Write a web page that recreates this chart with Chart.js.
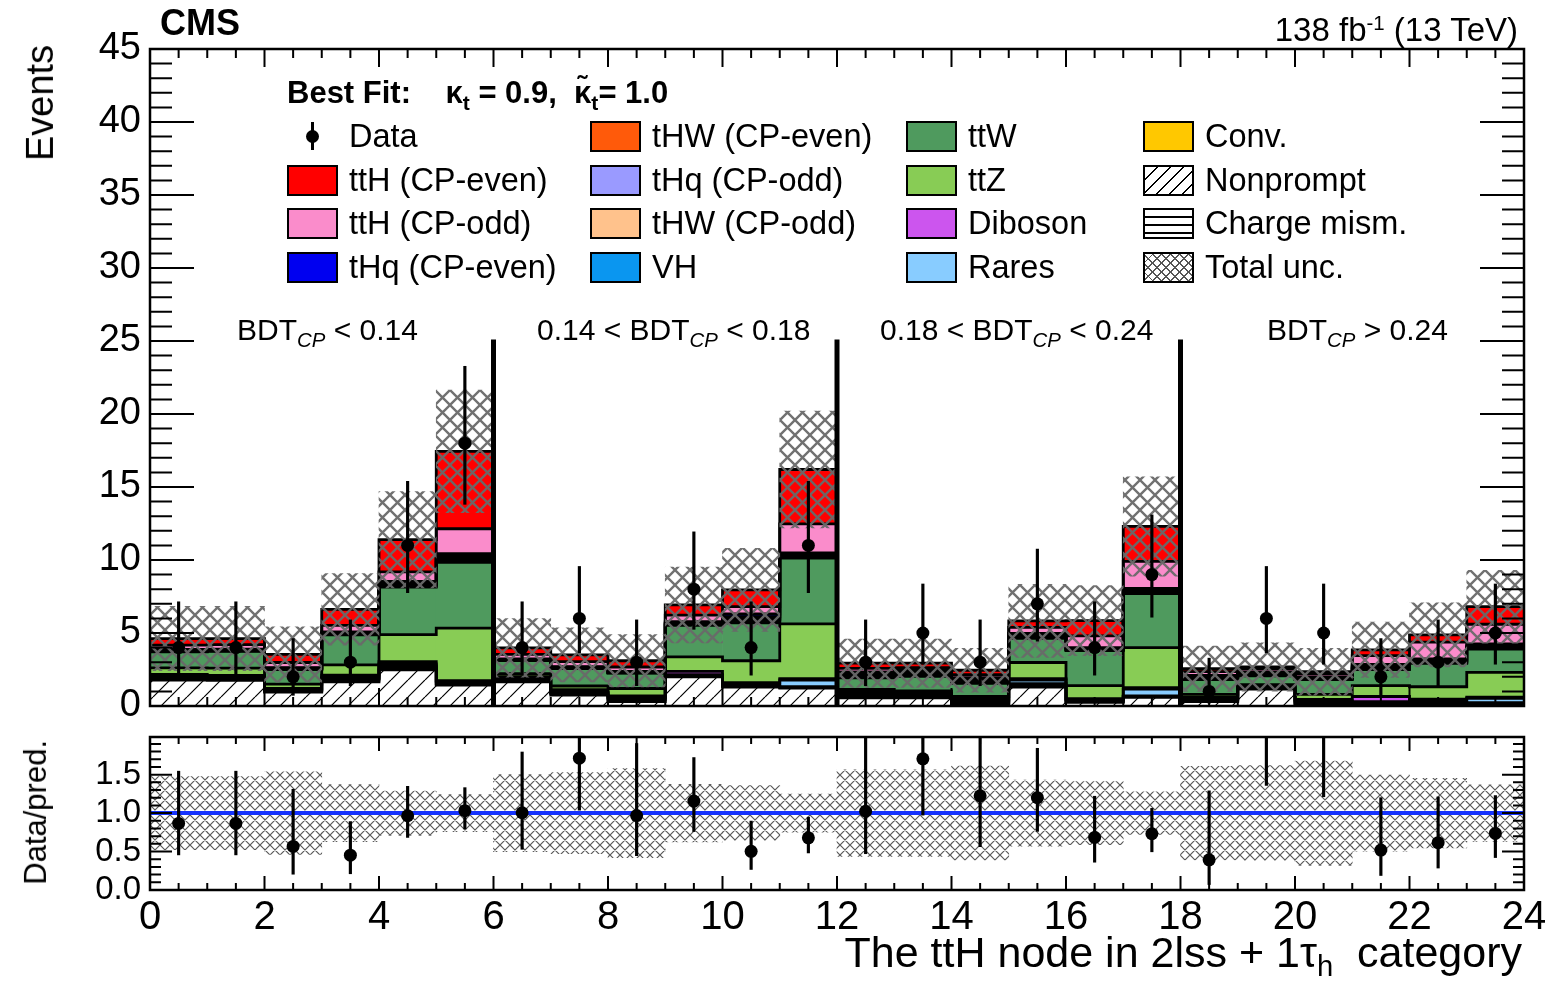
<!DOCTYPE html>
<html lang="es">
<head>
<meta charset="utf-8">
<title>Nodo ttH en 2lss + 1τh</title>
<script src="https://cdn.jsdelivr.net/npm/chart.js@4.4.1/dist/chart.umd.min.js"></script>
<style>
  html, body { margin: 0; padding: 0; background: #fff; }
  body { position: relative; width: 1545px; height: 984px; overflow: hidden;
         font-family: "Liberation Sans", Arial, Helvetica, sans-serif; color: #000; }
  canvas { position: absolute; left: 0; }
  #principal { top: 0; }
  #cociente { top: 725px; }
  .t { position: absolute; white-space: nowrap; line-height: 1; z-index: 2; }
  .vert { writing-mode: vertical-rl; transform: rotate(180deg); }
  .caja { position: absolute; width: 51px; height: 31px; box-sizing: border-box; border: 2px solid #000; z-index: 2; }
  .sub { font-size: 0.68em; position: relative; top: 0.32em; }
  .sup { font-size: 0.62em; position: relative; top: -0.55em; }
</style>
</head>
<body>
<canvas id="principal" width="1545" height="720"></canvas>
<canvas id="cociente" width="1545" height="259"></canvas>

<div class="t" style="left:160px; top:5px; font-size:36px; font-weight:bold;">CMS</div>
<div class="t" style="right:27px; top:13px; font-size:33px;">138 fb<span class="sup">-1</span> (13 TeV)</div>
<div class="t" style="left:287px; top:77px; font-size:31px; font-weight:bold;">Best Fit:&nbsp;&nbsp;&nbsp; κ<span class="sub">t</span> = 0.9,&nbsp;&nbsp;κ̃<span class="sub">t</span>= 1.0</div>

<div class="t" style="left:237px; top:315px; font-size:30px;">BDT<span class="sub"><i>CP</i></span> &lt; 0.14</div>
<div class="t" style="left:537px; top:315px; font-size:30px;">0.14 &lt; BDT<span class="sub"><i>CP</i></span> &lt; 0.18</div>
<div class="t" style="left:880px; top:315px; font-size:30px;">0.18 &lt; BDT<span class="sub"><i>CP</i></span> &lt; 0.24</div>
<div class="t" style="left:1267px; top:315px; font-size:30px;">BDT<span class="sub"><i>CP</i></span> &gt; 0.24</div>

<div class="t vert" style="left:21px; top:45px; font-size:38px;">Events</div>
<div class="t vert" style="left:20px; top:740px; font-size:31px;">Data/pred.</div>
<div class="t" style="right:23px; top:931px; font-size:43px;">The ttH node in 2lss + 1τ<span class="sub">h</span>&nbsp; category</div>

<div id="leyenda"></div>

<script>
Chart.defaults.font.family = '"Liberation Sans", Arial, sans-serif';
Chart.defaults.color = '#000';

// ==================== DATOS ====================
// 24 bins del nodo ttH: cuatro regiones de BDT_CP con seis bins cada una
const centros = [0.5, 1.5, 2.5, 3.5, 4.5, 5.5, 6.5, 7.5, 8.5, 9.5, 10.5, 11.5,
                 12.5, 13.5, 14.5, 15.5, 16.5, 17.5, 18.5, 19.5, 20.5, 21.5, 22.5, 23.5];
const limitesBDT = [6, 12, 18];
const alturaSeparador = 25.1;

const datos   = [4, 4, 2, 3, 11, 18, 4, 6, 3, 8, 4, 11, 3, 5, 3, 7, 4, 9, 1, 6, 5, 2, 3, 5];
const errBajo = [2.09, 2.09, 0.71, 1.37, 7.74, 13.79, 2.09, 3.62, 1.37, 5.23, 2.09, 7.74,
                 1.37, 2.84, 1.37, 4.42, 2.09, 6.06, 0.17, 3.62, 2.84, 0.71, 1.37, 2.84];
const errAlto = [7.16, 7.16, 4.64, 5.92, 15.41, 23.29, 7.16, 9.58, 5.92, 11.95, 7.16, 15.41,
                 5.92, 8.38, 5.92, 10.77, 7.16, 13.11, 3.30, 9.58, 8.38, 4.64, 5.92, 8.38];

// Fondos y señales, de abajo hacia arriba en la pila
const nonprompt = [1.78, 1.75, 0.95, 1.65, 2.47, 1.44, 1.65, 0.75, 0.30, 2.00, 1.30, 1.23,
                   0.55, 0.55, 0.05, 1.30, 0.25, 0.60, 0.30, 1.15, 0.05, 0.15, 0.05, 0.05];
const chargeMis = [0.10, 0.10, 0.08, 0.12, 0.15, 0.05, 0.10, 0.10, 0.12, 0.05, 0.05, 0.05,
                   0.10, 0.08, 0.10, 0.08, 0.05, 0.05, 0.08, 0.05, 0.10, 0.05, 0.10, 0.10];
const conv      = [0.10, 0.08, 0.06, 0.10, 0.12, 0.05, 0.08, 0.06, 0.10, 0.05, 0.05, 0.05,
                   0.08, 0.07, 0.10, 0.15, 0.05, 0.05, 0.08, 0.05, 0.10, 0.05, 0.10, 0.08];
const rares     = [0.08, 0.05, 0.05, 0.10, 0.15, 0.12, 0.08, 0.06, 0.08, 0.05, 0.12, 0.45,
                   0.10, 0.08, 0.10, 0.25, 0.08, 0.45, 0.06, 0.05, 0.10, 0.05, 0.12, 0.30];
const diboson   = [0.10, 0.12, 0.06, 0.15, 0.15, 0.08, 0.10, 0.15, 0.10, 0.22, 0.08, 0.10,
                   0.10, 0.10, 0.10, 0.10, 0.07, 0.10, 0.08, 0.05, 0.10, 0.35, 0.10, 0.07];
const ttZ       = [0.45, 0.50, 0.30, 0.70, 1.85, 3.60, 0.20, 0.25, 0.50, 1.00, 1.50, 3.75,
                   0.20, 0.15, 0.20, 1.10, 0.90, 2.75, 0.20, 0.12, 0.35, 0.75, 0.85, 1.70];
const ttW       = [1.10, 1.15, 1.00, 2.05, 3.25, 4.50, 0.90, 1.20, 1.05, 2.15, 2.60, 4.50,
                   0.80, 1.00, 0.90, 1.65, 2.40, 3.70, 1.00, 0.60, 1.00, 1.10, 1.60, 1.60];
const vh        = [0.03, 0.03, 0.02, 0.04, 0.08, 0.12, 0.02, 0.02, 0.02, 0.05, 0.12, 0.07,
                   0.08, 0.08, 0.08, 0.07, 0.04, 0.07, 0.06, 0.05, 0.04, 0.07, 0.06, 0.07];
const thwImpar  = [0.02, 0.02, 0.02, 0.03, 0.06, 0.09, 0.02, 0.02, 0.02, 0.04, 0.09, 0.08,
                   0.06, 0.06, 0.06, 0.05, 0.03, 0.08, 0.05, 0.04, 0.03, 0.05, 0.05, 0.05];
const thwPar    = [0.03, 0.02, 0.02, 0.03, 0.06, 0.09, 0.02, 0.02, 0.02, 0.04, 0.09, 0.05,
                   0.06, 0.06, 0.06, 0.05, 0.03, 0.05, 0.04, 0.04, 0.03, 0.05, 0.04, 0.05];
const thqImpar  = [0.03, 0.03, 0.03, 0.04, 0.08, 0.12, 0.03, 0.03, 0.03, 0.05, 0.12, 0.06,
                   0.08, 0.08, 0.08, 0.07, 0.04, 0.06, 0.06, 0.05, 0.04, 0.07, 0.06, 0.07];
const thqPar    = [0.05, 0.05, 0.04, 0.06, 0.12, 0.18, 0.03, 0.03, 0.03, 0.07, 0.18, 0.09,
                   0.12, 0.12, 0.12, 0.11, 0.06, 0.09, 0.09, 0.07, 0.06, 0.11, 0.09, 0.11];
const tthImpar  = [0.30, 0.30, 0.35, 0.45, 0.65, 1.70, 0.30, 0.35, 0.30, 0.45, 0.50, 2.00,
                   0.25, 0.20, 0.20, 0.40, 0.80, 1.85, 0.25, 0.20, 0.20, 0.60, 1.15, 1.35];
const tthPar    = [0.45, 0.42, 0.55, 1.10, 2.20, 5.30, 0.45, 0.46, 0.43, 0.70, 1.15, 3.72,
                   0.35, 0.30, 0.30, 0.45, 1.05, 2.40, 0.20, 0.15, 0.15, 0.40, 0.50, 1.20];

// Incertidumbre total (semiancho absoluto)
const incertidumbre = [2.2, 2.2, 1.9, 2.45, 3.3, 4.2, 2.0, 1.85, 1.8, 2.6, 2.85, 4.0,
                       1.65, 1.65, 1.5, 2.5, 2.4, 3.4, 1.55, 1.65, 1.6, 1.9, 2.2, 2.5];

// ==================== ESTILOS ====================
const colores = {
  conv: '#ffc800', raros: '#88ccff', dibosones: '#cc55ee', ttz: '#88cc55', ttw: '#4f9a5e',
  vh: '#0a96f0', thwImpar: '#ffc28c', thwPar: '#ff5a0a', thqImpar: '#9a9aff', thqPar: '#0000f0',
  tthImpar: '#fa8ccb', tthPar: '#ff0000'
};

function patron(tam, fondo, color, ancho, diagonales) {
  const c = document.createElement('canvas');
  c.width = c.height = tam;
  const g = c.getContext('2d');
  if (fondo) { g.fillStyle = fondo; g.fillRect(0, 0, tam, tam); }
  g.strokeStyle = color;
  g.lineWidth = ancho;
  g.beginPath();
  for (const k of [-tam, 0, tam]) {
    if (diagonales.includes('/')) { g.moveTo(k, tam); g.lineTo(k + tam, 0); }
    if (diagonales.includes('\\')) { g.moveTo(k, 0); g.lineTo(k + tam, tam); }
    if (diagonales.includes('-')) { g.moveTo(0, tam / 2); g.lineTo(tam, tam / 2); }
  }
  g.stroke();
  return g.createPattern(c, 'repeat');
}

const rayado      = patron(17, '#fff', '#000', 1.2, '/');
const lineas      = patron(7, '#fff', '#000', 1.2, '-');
const cruzado     = patron(15, null, 'rgba(105,105,105,0.95)', 2.4, '/\\');
const cruzadoFino = patron(10, null, 'rgba(70,70,70,0.9)', 1.2, '/\\');

const componentes = [
  { label: 'Nonprompt', valores: nonprompt, color: rayado },
  { label: 'Charge mism.', valores: chargeMis, color: lineas },
  { label: 'Conv.', valores: conv, color: colores.conv },
  { label: 'Rares', valores: rares, color: colores.raros },
  { label: 'Diboson', valores: diboson, color: colores.dibosones },
  { label: 'ttZ', valores: ttZ, color: colores.ttz },
  { label: 'ttW', valores: ttW, color: colores.ttw },
  { label: 'VH', valores: vh, color: colores.vh },
  { label: 'tHW (CP-odd)', valores: thwImpar, color: colores.thwImpar },
  { label: 'tHW (CP-even)', valores: thwPar, color: colores.thwPar },
  { label: 'tHq (CP-odd)', valores: thqImpar, color: colores.thqImpar },
  { label: 'tHq (CP-even)', valores: thqPar, color: colores.thqPar },
  { label: 'ttH (CP-odd)', valores: tthImpar, color: colores.tthImpar },
  { label: 'ttH (CP-even)', valores: tthPar, color: colores.tthPar }
];

const total = centros.map((_, i) => componentes.reduce((s, c) => s + c.valores[i], 0));

// ==================== PLUGINS ====================
// Contorno negro en escalón sobre cada capa de la pila (antes de dibujar la banda)
const contornos = {
  id: 'contornos',
  beforeDatasetDraw(chart, args) {
    if (args.meta.label !== 'Total unc.') return;
    const { ctx, chartArea: a } = chart;
    ctx.save();
    ctx.beginPath();
    ctx.rect(a.left, a.top, a.width, a.height);
    ctx.clip();
    ctx.strokeStyle = '#000';
    ctx.lineWidth = 2.8;
    chart.getSortedVisibleDatasetMetas().forEach(meta => {
      if (meta.stack !== 'fondo') return;
      ctx.beginPath();
      meta.data.forEach((b, i) => {
        const izq = b.x - b.width / 2;
        const der = b.x + b.width / 2;
        if (i === 0) ctx.moveTo(izq, b.y); else ctx.lineTo(izq, b.y);
        ctx.lineTo(der, b.y);
      });
      ctx.stroke();
    });
    ctx.restore();
  }
};

// Marco con marcas hacia dentro en los cuatro lados
const marco = {
  id: 'marco',
  afterDatasetsDraw(chart, args, o) {
    const { ctx, chartArea: a, scales: { x, y } } = chart;
    ctx.save();
    ctx.strokeStyle = '#000';
    ctx.lineWidth = 2;
    ctx.beginPath();
    const nx = Math.round((x.max - x.min) / o.xMenor);
    for (let k = 0; k <= nx; k++) {
      const v = x.min + k * o.xMenor;
      const px = x.getPixelForValue(v);
      const l = Math.abs(v / o.xMayor - Math.round(v / o.xMayor)) < 1e-6 ? o.largoX[0] : o.largoX[1];
      ctx.moveTo(px, a.bottom); ctx.lineTo(px, a.bottom - l);
      ctx.moveTo(px, a.top); ctx.lineTo(px, a.top + l);
    }
    const ny = Math.floor((y.max - y.min) / o.yMenor + 1e-6);
    for (let k = 0; k <= ny; k++) {
      const v = y.min + k * o.yMenor;
      const py = y.getPixelForValue(v);
      const l = Math.abs(v / o.yMayor - Math.round(v / o.yMayor)) < 1e-6 ? o.largoY[0] : o.largoY[1];
      ctx.moveTo(a.left, py); ctx.lineTo(a.left + l, py);
      ctx.moveTo(a.right, py); ctx.lineTo(a.right - l, py);
    }
    ctx.stroke();
    ctx.lineWidth = 2.5;
    ctx.strokeRect(a.left, a.top, a.width, a.height);
    ctx.restore();
  }
};

// Ejes de tamaño fijo y sin relleno extra, para fijar el área del gráfico
function ejeFijo(s) {
  s.width = 150;
  s.paddingTop = 0;
  s.paddingBottom = 0;
}
function ejeXFijo(s) {
  s.height = 94;
  s.paddingLeft = 0;
  s.paddingRight = 0;
}

const barraBase = { type: 'bar', grouped: false, barPercentage: 1, categoryPercentage: 1, borderWidth: 0 };

// ==================== PANEL PRINCIPAL ====================
const dsPila = componentes.map(c => ({
  ...barraBase,
  label: c.label,
  stack: 'fondo',
  order: 10,
  data: centros.map((x, i) => ({ x, y: c.valores[i] })),
  backgroundColor: c.color
}));

const separadores = [];
limitesBDT.forEach(b => {
  separadores.push({ x: b, y: 0 }, { x: b, y: alturaSeparador }, { x: b, y: null });
});

new Chart(document.getElementById('principal'), {
  type: 'bar',
  data: {
    datasets: [
      ...dsPila,
      {
        ...barraBase, label: 'Total unc.', order: 3,
        data: centros.map((x, i) => ({ x, y: [total[i] - incertidumbre[i], total[i] + incertidumbre[i]] })),
        backgroundColor: cruzado
      },
      {
        type: 'line', label: 'separadores', order: 2, data: separadores,
        borderColor: '#000', borderWidth: 5, pointRadius: 0, spanGaps: false
      },
      {
        ...barraBase, label: 'errores', order: 1, barPercentage: 0.055,
        data: centros.map((x, i) => ({ x, y: [errBajo[i], errAlto[i]] })),
        backgroundColor: '#000'
      },
      {
        type: 'line', label: 'Data', order: 0, showLine: false,
        data: centros.map((x, i) => ({ x, y: datos[i] })),
        pointRadius: 6.5, pointBackgroundColor: '#000', pointBorderWidth: 0
      }
    ]
  },
  options: {
    responsive: false,
    devicePixelRatio: 1,
    animation: false,
    events: [],
    layout: { padding: { top: 49, right: 21, left: 0, bottom: 14 } },
    plugins: {
      legend: { display: false },
      tooltip: { enabled: false },
      marco: { xMayor: 2, xMenor: 0.5, largoX: [18, 9], yMayor: 5, yMenor: 1, largoY: [44, 22] }
    },
    scales: {
      x: { type: 'linear', min: 0, max: 24, offset: false, display: false, ticks: { stepSize: 2 } },
      y: {
        min: 0, max: 45,
        ticks: { stepSize: 5, padding: 9, font: { size: 38 } },
        grid: { display: false, drawTicks: false },
        border: { display: false },
        afterFit: ejeFijo
      }
    }
  },
  plugins: [contornos, marco]
});

// ==================== PANEL DE COCIENTE ====================
const cociente = datos.map((d, i) => d / total[i]);

new Chart(document.getElementById('cociente'), {
  type: 'bar',
  data: {
    datasets: [
      {
        ...barraBase, label: 'banda', order: 3, clip: 0,
        data: centros.map((x, i) => ({ x, y: [1 - incertidumbre[i] / total[i], 1 + incertidumbre[i] / total[i]] })),
        backgroundColor: cruzadoFino
      },
      {
        type: 'line', label: 'referencia', order: 2, clip: 0,
        data: [{ x: 0, y: 1 }, { x: 24, y: 1 }],
        borderColor: '#1432ff', borderWidth: 4, pointRadius: 0
      },
      {
        ...barraBase, label: 'errores', order: 1, barPercentage: 0.055, clip: 0,
        data: centros.map((x, i) => ({ x, y: [errBajo[i] / total[i], errAlto[i] / total[i]] })),
        backgroundColor: '#000'
      },
      {
        type: 'line', label: 'Data', order: 0, showLine: false, clip: 0,
        data: centros.map((x, i) => ({ x, y: cociente[i] })),
        pointRadius: 6.5, pointBackgroundColor: '#000', pointBorderWidth: 0
      }
    ]
  },
  options: {
    responsive: false,
    devicePixelRatio: 1,
    animation: false,
    events: [],
    layout: { padding: { top: 12, right: 21, left: 0, bottom: 0 } },
    plugins: {
      legend: { display: false },
      tooltip: { enabled: false },
      marco: { xMayor: 2, xMenor: 0.5, largoX: [14, 7], yMayor: 0.5, yMenor: 0.1, largoY: [22, 11] }
    },
    scales: {
      x: {
        type: 'linear', min: 0, max: 24, offset: false,
        ticks: { stepSize: 2, padding: 4, maxRotation: 0, autoSkip: false, font: { size: 40 } },
        grid: { display: false, drawTicks: false },
        border: { display: false },
        afterFit: ejeXFijo
      },
      y: {
        min: 0, max: 1.99,
        ticks: { stepSize: 0.5, includeBounds: false, padding: 9, font: { size: 33 },
                 callback: v => v.toFixed(1) },
        grid: { display: false, drawTicks: false },
        border: { display: false },
        afterFit: ejeFijo
      }
    }
  },
  plugins: [marco]
});

// ==================== LEYENDA ====================
const rayadoCss = 'repeating-linear-gradient(135deg, #fff 0 8px, #000 8px 9.3px)';
const lineasCss = 'repeating-linear-gradient(180deg, #fff 0 6.5px, #000 6.5px 8px)';
const cruzadoCss = 'repeating-linear-gradient(45deg, transparent 0 5px, #555 5px 6.3px), ' +
                   'repeating-linear-gradient(135deg, #fff 0 5px, #555 5px 6.3px)';

const columnasLeyenda = [
  [['Data', null], ['ttH (CP-even)', colores.tthPar], ['ttH (CP-odd)', colores.tthImpar], ['tHq (CP-even)', colores.thqPar]],
  [['tHW (CP-even)', colores.thwPar], ['tHq (CP-odd)', colores.thqImpar], ['tHW (CP-odd)', colores.thwImpar], ['VH', colores.vh]],
  [['ttW', colores.ttw], ['ttZ', colores.ttz], ['Diboson', colores.dibosones], ['Rares', colores.raros]],
  [['Conv.', colores.conv], ['Nonprompt', rayadoCss], ['Charge mism.', lineasCss], ['Total unc.', cruzadoCss]]
];
const colX = [287, 590, 906, 1143];
const filaY = [136, 180, 223, 267];

let html = '';
columnasLeyenda.forEach((col, c) => {
  col.forEach(([texto, relleno], f) => {
    const x = colX[c], y = filaY[f];
    if (relleno === null) {
      html += `<div style="position:absolute;left:${x + 24}px;top:${y - 14}px;width:3px;height:28px;background:#000;z-index:2"></div>`;
      html += `<div style="position:absolute;left:${x + 19}px;top:${y - 6.5}px;width:13px;height:13px;border-radius:50%;background:#000;z-index:2"></div>`;
    } else {
      html += `<div class="caja" style="left:${x}px;top:${y - 15.5}px;background:${relleno}"></div>`;
    }
    html += `<div class="t" style="left:${x + 62}px;top:${y - 16}px;font-size:32.5px">${texto}</div>`;
  });
});
document.getElementById('leyenda').innerHTML = html;
</script>
</body>
</html>
